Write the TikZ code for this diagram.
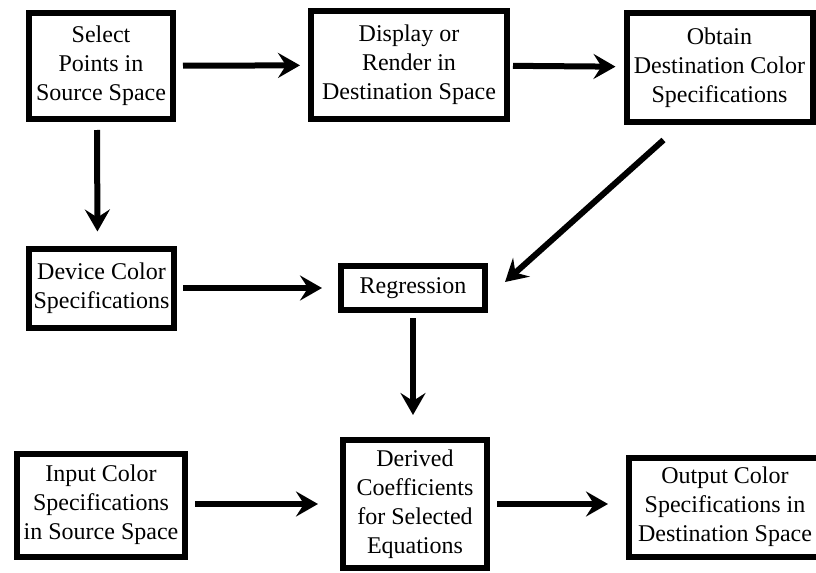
\documentclass[tikz,border=0pt]{standalone}
\usepackage{fontspec}
\setmainfont{Liberation Serif}
\usetikzlibrary{arrows.meta}
\tikzset{
  blk/.style={draw, rectangle, line width=3pt, align=center, inner sep=0pt,
              font=\fontsize{12}{14.5}\selectfont},
  flow/.style={line width=3pt, -{Stealth[length=11pt,width=12.5pt,inset=4pt]}},
}

\begin{document}
\begin{tikzpicture}[x=0.5pt,y=-0.5pt]
  \useasboundingbox (0,0) rectangle (816,573);
  \node[blk, minimum width=72pt,   minimum height=53pt]   (sel)  at (101,66)    {Select\\ Points in\\ Source Space};
  \node[blk, minimum width=98pt,   minimum height=54pt]   (disp) at (409,65)    {Display or\\ Render in\\ Destination Space};
  \node[blk, minimum width=93pt,   minimum height=54.5pt] (obt)  at (719.5,67.5) {Obtain\\ Destination Color\\ Specifications};
  \node[blk, minimum width=72.5pt, minimum height=39.5pt] (dev)  at (101.5,288) {Device Color\\ Specifications};
  \node[blk, minimum width=72pt,   minimum height=22pt]   (reg)  at (413,288)   {Regression};
  \node[blk, minimum width=84pt,   minimum height=51.5pt] (inp)  at (101,505)   {Input Color\\ Specifications\\ in Source Space};
  \node[blk, minimum width=72pt,   minimum height=64pt]   (der)  at (415,504)   {Derived\\ Coefficients\\ for Selected\\ Equations};
  \node[blk, minimum width=96pt,   minimum height=49.5pt] (out)  at (725,507)   {Output Color\\ Specifications in\\ Destination Space};
  \draw[flow, shorten <=3.5pt, shorten >=4pt] (sel) -- (disp);
  \draw[flow, shorten <=1.5pt, shorten >=4pt] (disp) -- (obt);
  \draw[flow, shorten <=4pt, shorten >=7pt] ([xshift=-2pt]sel.south) -- ([xshift=-2pt]dev.north);
  \draw[flow, shorten <=3pt, shorten >=8pt] (dev) -- (reg);
  \draw[flow] ([xshift=-28pt,yshift=-7.5pt]obt.south) -- ([xshift=8.5pt,yshift=3pt]reg.east);
  \draw[flow, shorten <=2.5pt, shorten >=11pt] (reg.south) -- (reg.south |- der.north);
  \draw[flow, shorten <=3.5pt, shorten >=11pt] (inp.east |- der.west) -- (der);
  \draw[flow, shorten <=3.5pt, shorten >=9pt] (der) -- (out.west |- der.east);
\end{tikzpicture}
\end{document}
